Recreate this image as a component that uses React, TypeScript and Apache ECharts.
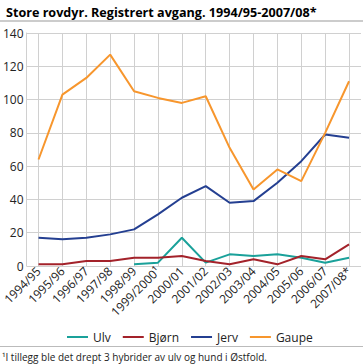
import React, { useEffect, useRef } from "react";
import * as echarts from "echarts";

const categories = [
  "1994/95", "1995/96", "1996/97", "1997/98", "1998/99", "1999/2000¹", "2000/01",
  "2001/02", "2002/03", "2003/04", "2004/05", "2005/06", "2006/07", "2007/08*",
];
const ulv = [null, null, null, null, 1, 2, 17, 2, 7, 6, 7, 5, 2, 5];
const bjorn = [1, 1, 3, 3, 5, 5, 6, 3, 1, 4, 1, 6, 4, 13];
const jerv = [17, 16, 17, 19, 22, 31, 41, 48, 38, 39, 50, 63, 79, 77];
const gaupe = [64, 103, 113, 127, 105, 101, 98, 102, 71, 46, 58, 51, 80, 111];

const seriesNames = ["Ulv", "Bjørn", "Jerv", "Gaupe"];
const seriesColors = ["#1aa19a", "#a3222a", "#243f91", "#f7962d"];
const yTicks = { min: 0, max: 140, interval: 20 };

const FONT = "'Open Sans', 'DejaVu Sans', sans-serif";

export default function App() {
  const ref = useRef<HTMLDivElement>(null);
  useEffect(() => {
    if (!ref.current) return;
    const chart = echarts.init(ref.current, null, { renderer: "svg" });
    const data = [ulv, bjorn, jerv, gaupe];
    chart.setOption({
      animation: false,
      textStyle: { fontFamily: FONT },
      title: {
        text: "Store rovdyr. Registrert avgang. 1994/95-2007/08*",
        left: 1,
        top: 1,
        textStyle: { fontFamily: FONT, fontSize: 12.6, fontWeight: "bold", color: "#000" },
      },
      graphic: [
        { type: "rect", shape: { x: 0, y: 20, width: 363, height: 2 }, style: { fill: "#cccccc" } },
        { type: "rect", shape: { x: 0, y: 346, width: 363, height: 1 }, style: { fill: "#bbbbbb" } },
        {
          type: "text",
          x: 2,
          y: 352,
          style: {
            text: "¹I tillegg ble det drept 3 hybrider av ulv og hund i Østfold.",
            font: `10px ${FONT}`,
            fill: "#222",
          },
        },
      ],
      legend: {
        data: seriesNames,
        left: 62,
        top: 326,
        icon: "rect",
        itemWidth: 21,
        itemHeight: 2,
        itemGap: 12,
        textStyle: { fontFamily: FONT, fontSize: 12, color: "#222" },
      },
      grid: { left: 25, right: 2, top: 33, height: 233, containLabel: false },
      xAxis: {
        type: "category",
        data: categories,
        boundaryGap: true,
        axisLine: { show: false },
        axisTick: {
          show: true,
          inside: true,
          alignWithLabel: true,
          length: 233,
          lineStyle: { color: "#d0d0d0", width: 1 },
        },
        splitLine: { show: false },
        axisLabel: {
          rotate: 45,
          interval: 0,
          margin: 3,
          fontSize: 12,
          color: "#222",
          fontFamily: FONT,
        },
      },
      yAxis: {
        type: "value",
        min: yTicks.min,
        max: yTicks.max,
        interval: yTicks.interval,
        axisLine: { show: true, lineStyle: { color: "#d0d0d0" } },
        axisTick: { show: false },
        splitLine: { show: true, lineStyle: { color: "#d0d0d0", width: 1 } },
        axisLabel: { fontSize: 12, color: "#222", margin: 3, fontFamily: FONT },
      },
      series: seriesNames.map((name, i) => ({
        name,
        type: "line",
        data: data[i],
        symbol: "none",
        connectNulls: false,
        lineStyle: { color: seriesColors[i], width: 2 },
        itemStyle: { color: seriesColors[i] },
      })),
    });
    return () => chart.dispose();
  }, []);
  return <div ref={ref} style={{ width: 363, height: 364, position: "absolute", left: 0, top: 0 }} />;
}
